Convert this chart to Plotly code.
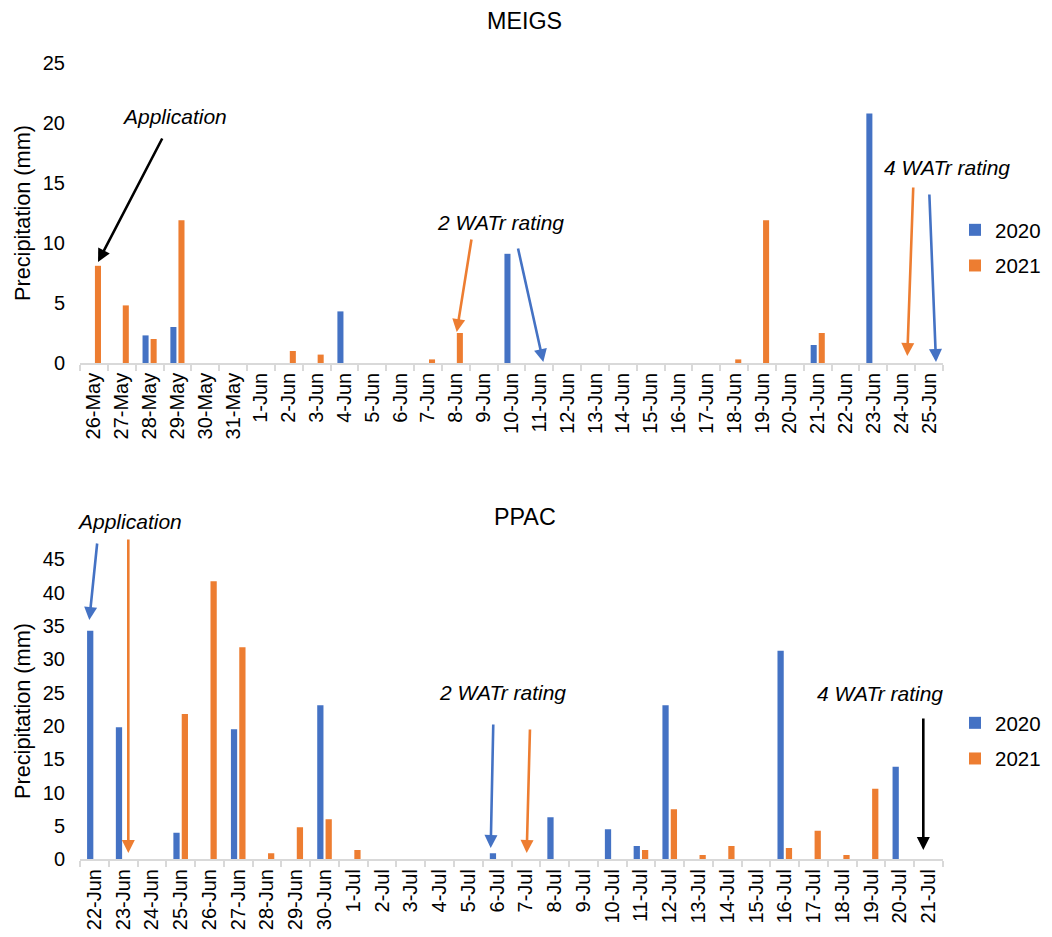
import plotly.graph_objects as go

# ---------------- data ----------------
meigs_dates = ["26-May", "27-May", "28-May", "29-May", "30-May", "31-May",
               "1-Jun", "2-Jun", "3-Jun", "4-Jun", "5-Jun", "6-Jun", "7-Jun", "8-Jun",
               "9-Jun", "10-Jun", "11-Jun", "12-Jun", "13-Jun", "14-Jun", "15-Jun",
               "16-Jun", "17-Jun", "18-Jun", "19-Jun", "20-Jun", "21-Jun", "22-Jun",
               "23-Jun", "24-Jun", "25-Jun"]
meigs_2020 = [0, 0, 2.3, 3.0, 0, 0,
              0, 0, 0, 4.3, 0, 0, 0, 0,
              0, 9.1, 0, 0, 0, 0, 0,
              0, 0, 0, 0, 0, 1.5, 0,
              20.8, 0, 0]
meigs_2021 = [8.1, 4.8, 2.0, 11.9, 0, 0,
              0, 1.0, 0.7, 0, 0, 0, 0.3, 2.5,
              0, 0, 0, 0, 0, 0, 0,
              0, 0, 0.3, 11.9, 0, 2.5, 0,
              0, 0, 0]

ppac_dates = ["22-Jun", "23-Jun", "24-Jun", "25-Jun", "26-Jun", "27-Jun", "28-Jun",
              "29-Jun", "30-Jun", "1-Jul", "2-Jul", "3-Jul", "4-Jul", "5-Jul", "6-Jul",
              "7-Jul", "8-Jul", "9-Jul", "10-Jul", "11-Jul", "12-Jul", "13-Jul",
              "14-Jul", "15-Jul", "16-Jul", "17-Jul", "18-Jul", "19-Jul", "20-Jul",
              "21-Jul"]
ppac_2020 = [34.3, 19.8, 0, 4.0, 0, 19.5, 0,
             0, 23.1, 0, 0, 0, 0, 0, 0.9,
             0, 6.3, 0, 4.5, 2.0, 23.1, 0,
             0, 0, 31.3, 0, 0, 0, 13.9,
             0]
ppac_2021 = [0, 0, 0, 21.8, 41.7, 31.8, 0.9,
             4.8, 6.0, 1.4, 0, 0, 0, 0, 0,
             0, 0, 0, 0, 1.4, 7.5, 0.65,
             2.0, 0, 1.7, 4.3, 0.65, 10.6, 0,
             0]

series_names = ["2020", "2021"]
BLUE = "#4472C4"
ORANGE = "#ED7D31"

# page body has an 8px default margin; figure is sized so it ends at the window edge
OFF = 8
W, H = 1052 - OFF, 937 - OFF
FONT = "Liberation Sans, Arial, sans-serif"


def px(x):
    return (x - OFF) / W


def py(y):
    return 1 - (y - OFF) / H


fig = go.Figure()

fig.add_trace(go.Bar(x=meigs_dates, y=meigs_2020, name=series_names[0], marker_color=BLUE,
                     marker_line_width=0, xaxis="x", yaxis="y", legend="legend",
                     legendgroup="a"))
fig.add_trace(go.Bar(x=meigs_dates, y=meigs_2021, name=series_names[1], marker_color=ORANGE,
                     marker_line_width=0, xaxis="x", yaxis="y", legend="legend",
                     legendgroup="b"))
fig.add_trace(go.Bar(x=ppac_dates, y=ppac_2020, name=series_names[0], marker_color=BLUE,
                     marker_line_width=0, xaxis="x2", yaxis="y2", legend="legend2",
                     legendgroup="c"))
fig.add_trace(go.Bar(x=ppac_dates, y=ppac_2021, name=series_names[1], marker_color=ORANGE,
                     marker_line_width=0, xaxis="x2", yaxis="y2", legend="legend2",
                     legendgroup="d"))

xaxis_common = dict(
    type="category", tickangle=-90, showline=True, linecolor="#d9d9d9", linewidth=1.5,
    ticks="outside", tickson="boundaries", ticklen=6, tickcolor="#d9d9d9", tickwidth=1.5,
    showgrid=False, zeroline=False, tickfont=dict(family=FONT, size=20, color="black"),
    automargin=False, fixedrange=True,
)
yaxis_common = dict(
    showgrid=False, zeroline=False, showline=False, ticks="", dtick=5,
    tickfont=dict(family=FONT, size=20, color="black"), ticklabelstandoff=14,
    automargin=False, fixedrange=True,
)

top_y0, top_y25 = 363, 63
bot_y0 = 859.3
bot_ppu = 300 / 45.0
bot_max = 48
bot_ytop = bot_y0 - bot_max * bot_ppu

fig.update_layout(
    width=W, height=H,
    margin=dict(l=0, r=0, t=0, b=0, autoexpand=False),
    paper_bgcolor="white", plot_bgcolor="white",
    barmode="group", bargap=0.42, bargroupgap=0.25,
    font=dict(family=FONT, color="black"),
    xaxis=dict(domain=[px(80), px(943)], anchor="y", **xaxis_common),
    yaxis=dict(domain=[py(top_y0), py(top_y25)], range=[0, 25], anchor="x", **yaxis_common),
    xaxis2=dict(domain=[px(80), px(943)], anchor="y2", **xaxis_common),
    yaxis2=dict(domain=[py(bot_y0), py(bot_ytop)], range=[0, bot_max], anchor="x2",
                **yaxis_common),
    legend=dict(x=px(955), y=py(210), xanchor="left", yanchor="top",
                font=dict(family=FONT, size=20.5, color="black"), tracegroupgap=6,
                bgcolor="rgba(0,0,0,0)"),
    legend2=dict(x=px(955), y=py(703), xanchor="left", yanchor="top",
                 font=dict(family=FONT, size=20.5, color="black"), tracegroupgap=6,
                 bgcolor="rgba(0,0,0,0)"),
    showlegend=True,
)

annotations = []


def label(text, x, y, size, angle=0):
    annotations.append(dict(text=text, x=px(x), y=py(y), xref="paper", yref="paper",
                            xanchor="center", yanchor="middle", showarrow=False,
                            textangle=angle, font=dict(family=FONT, size=size, color="black")))


label("MEIGS", 524, 21, 23.3)
label("PPAC", 525, 517, 23.3)
label("Precipitation (mm)", 22, 213, 21.7, -90)
label("Precipitation (mm)", 22, 711, 21.7, -90)

for t, x, y in [
    ("Application", 174, 117),
    ("2 WATr rating", 500, 223),
    ("4 WATr rating", 947, 167),
    ("Application", 129, 521),
    ("2 WATr rating", 502, 692),
    ("4 WATr rating", 880, 693),
]:
    label("<i>" + t + "</i>", x, y, 21)

# arrows: (tail_x, tail_y, tip_x, tip_y, color)
arrows = [
    (163, 137, 98, 262, "black"),
    (471.7, 238, 456.7, 332, ORANGE),
    (517.7, 247, 543.3, 362, BLUE),
    (913.3, 186, 907.3, 356, ORANGE),
    (929.3, 193, 936, 362, BLUE),
    (97.3, 542, 89.3, 620, BLUE),
    (128.3, 538, 128.3, 853, ORANGE),
    (493.3, 723, 490.7, 848, BLUE),
    (530, 728, 526.7, 853, ORANGE),
    (923.3, 717, 923.3, 850, "black"),
]
for tx, ty, hx, hy, c in arrows:
    annotations.append(dict(text="", x=px(hx), y=py(hy), xref="paper", yref="paper",
                            ax=tx - hx, ay=ty - hy, axref="pixel", ayref="pixel",
                            showarrow=True, arrowhead=2, arrowsize=1, arrowwidth=2.6,
                            arrowcolor=c, standoff=0, startstandoff=0))

fig.update_layout(annotations=annotations)

fig.write_html("out.html")
